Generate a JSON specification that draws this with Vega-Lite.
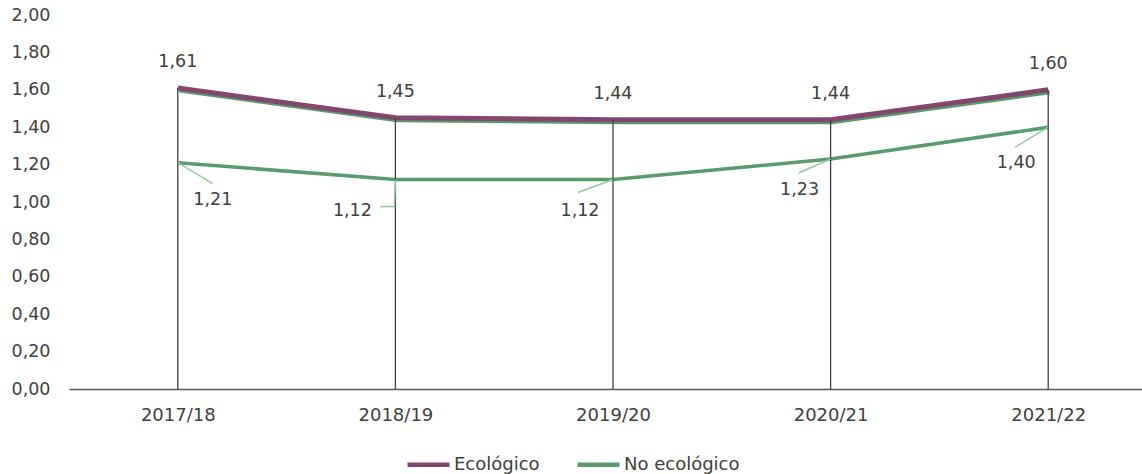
{
  "$schema": "https://vega.github.io/schema/vega-lite/v6.json",
  "autosize": {"type": "none"},
  "padding": {"left": 69, "top": 15, "right": 0, "bottom": 85},
  "width": 1088,
  "height": 374,
  "config": {
    "locale": {"number": {"decimal": ",", "thousands": ".", "grouping": [3], "currency": ["", " €"]}},
    "view": {"stroke": null},
    "font": "DejaVu Sans",
    "axis": {"labelFont": "DejaVu Sans", "labelFontSize": 17.5, "labelColor": "#404040", "title": null, "ticks": false, "grid": false},
    "legend": {"labelFont": "DejaVu Sans", "labelFontSize": 18, "labelColor": "#404040"}
  },
  "data": {
    "values": [
      {"year": "2017/18", "serie": "Ecológico", "value": 1.61},
      {"year": "2018/19", "serie": "Ecológico", "value": 1.45},
      {"year": "2019/20", "serie": "Ecológico", "value": 1.44},
      {"year": "2020/21", "serie": "Ecológico", "value": 1.44},
      {"year": "2021/22", "serie": "Ecológico", "value": 1.60},
      {"year": "2017/18", "serie": "No ecológico", "value": 1.21},
      {"year": "2018/19", "serie": "No ecológico", "value": 1.12},
      {"year": "2019/20", "serie": "No ecológico", "value": 1.12},
      {"year": "2020/21", "serie": "No ecológico", "value": 1.23},
      {"year": "2021/22", "serie": "No ecológico", "value": 1.40}
    ]
  },
  "encoding": {
    "x": {"field": "year", "type": "ordinal", "scale": {"type": "point", "padding": 0.5},
          "axis": {"domainColor": "#595959", "domainWidth": 1.3, "labelPadding": 17, "labelAngle": 0, "labelFontSize": 18}},
    "y": {"field": "value", "type": "quantitative", "scale": {"domain": [0, 2], "nice": false},
          "axis": {"domain": false, "labelPadding": 19, "format": ".2f", "values": [0, 0.2, 0.4, 0.6, 0.8, 1.0, 1.2, 1.4, 1.6, 1.8, 2.0]}}
  },
  "layer": [
    {
      "transform": [{"filter": "datum.serie === 'Ecológico'"}],
      "mark": {"type": "line", "color": "#5a9b6b", "strokeWidth": 3, "yOffset": 3, "xOffset": 1.5}
    },
    {
      "transform": [{"filter": "datum.serie === 'No ecológico'"}],
      "mark": {"type": "line", "strokeWidth": 3.5},
      "encoding": {"color": {"field": "serie", "type": "nominal",
        "scale": {"domain": ["Ecológico", "No ecológico"], "range": ["#82476f", "#5a9b6b"]},
        "legend": {"title": null, "orient": "none", "legendX": 336, "legendY": 426, "direction": "horizontal",
                   "symbolType": "stroke", "symbolSize": 1764, "symbolStrokeWidth": 4.5, "labelOffset": 2, "columnPadding": 28}}}
    },
    {
      "transform": [{"filter": "datum.serie === 'Ecológico'"}],
      "mark": {"type": "line", "strokeWidth": 5},
      "encoding": {"color": {"field": "serie", "type": "nominal"}}
    },
    {
      "transform": [{"filter": "datum.serie === 'Ecológico'"}],
      "mark": {"type": "rule", "color": "#404040", "strokeWidth": 1.3},
      "encoding": {"y2": {"datum": 0}}
    },
    {
      "transform": [{"filter": "datum.serie === 'Ecológico'"}],
      "mark": {"type": "text", "dy": -26, "fontSize": 17.5, "color": "#404040", "font": "DejaVu Sans"},
      "encoding": {"text": {"field": "value", "type": "quantitative", "format": ".2f"}}
    },
    {
      "transform": [{"filter": "datum.serie === 'No ecológico' && datum.year === '2017/18'"}],
      "layer": [
        {"mark": {"type": "rule", "color": "#93c9a0", "strokeWidth": 1.5, "x2Offset": 35, "y2Offset": 21},
         "encoding": {"x2": {"field": "year"}, "y2": {"field": "value"}}},
        {"mark": {"type": "text", "dx": 35, "dy": 37, "fontSize": 17.5, "color": "#404040", "font": "DejaVu Sans"},
         "encoding": {"text": {"field": "value", "type": "quantitative", "format": ".2f"}}}
      ]
    },
    {
      "transform": [{"filter": "datum.serie === 'No ecológico' && datum.year === '2018/19'"}],
      "layer": [
        {"mark": {"type": "rule", "color": "#93c9a0", "strokeWidth": 1.5, "x2Offset": -1, "y2Offset": 27},
         "encoding": {"x2": {"field": "year"}, "y2": {"field": "value"}}},
        {"mark": {"type": "rule", "color": "#93c9a0", "strokeWidth": 1.5, "xOffset": -1, "yOffset": 27, "x2Offset": -15, "y2Offset": 27},
         "encoding": {"x2": {"field": "year"}, "y2": {"field": "value"}}},
        {"mark": {"type": "text", "dx": -43, "dy": 31, "fontSize": 17.5, "color": "#404040", "font": "DejaVu Sans"},
         "encoding": {"text": {"field": "value", "type": "quantitative", "format": ".2f"}}}
      ]
    },
    {
      "transform": [{"filter": "datum.serie === 'No ecológico' && datum.year === '2019/20'"}],
      "layer": [
        {"mark": {"type": "rule", "color": "#93c9a0", "strokeWidth": 1.5, "x2Offset": -35, "y2Offset": 13},
         "encoding": {"x2": {"field": "year"}, "y2": {"field": "value"}}},
        {"mark": {"type": "text", "dx": -33, "dy": 31, "fontSize": 17.5, "color": "#404040", "font": "DejaVu Sans"},
         "encoding": {"text": {"field": "value", "type": "quantitative", "format": ".2f"}}}
      ]
    },
    {
      "transform": [{"filter": "datum.serie === 'No ecológico' && datum.year === '2020/21'"}],
      "layer": [
        {"mark": {"type": "rule", "color": "#93c9a0", "strokeWidth": 1.5, "x2Offset": -32, "y2Offset": 14},
         "encoding": {"x2": {"field": "year"}, "y2": {"field": "value"}}},
        {"mark": {"type": "text", "dx": -31, "dy": 31, "fontSize": 17.5, "color": "#404040", "font": "DejaVu Sans"},
         "encoding": {"text": {"field": "value", "type": "quantitative", "format": ".2f"}}}
      ]
    },
    {
      "transform": [{"filter": "datum.serie === 'No ecológico' && datum.year === '2021/22'"}],
      "layer": [
        {"mark": {"type": "rule", "color": "#93c9a0", "strokeWidth": 1.5, "x2Offset": -33, "y2Offset": 20},
         "encoding": {"x2": {"field": "year"}, "y2": {"field": "value"}}},
        {"mark": {"type": "text", "dx": -32, "dy": 36, "fontSize": 17.5, "color": "#404040", "font": "DejaVu Sans"},
         "encoding": {"text": {"field": "value", "type": "quantitative", "format": ".2f"}}}
      ]
    }
  ]
}
